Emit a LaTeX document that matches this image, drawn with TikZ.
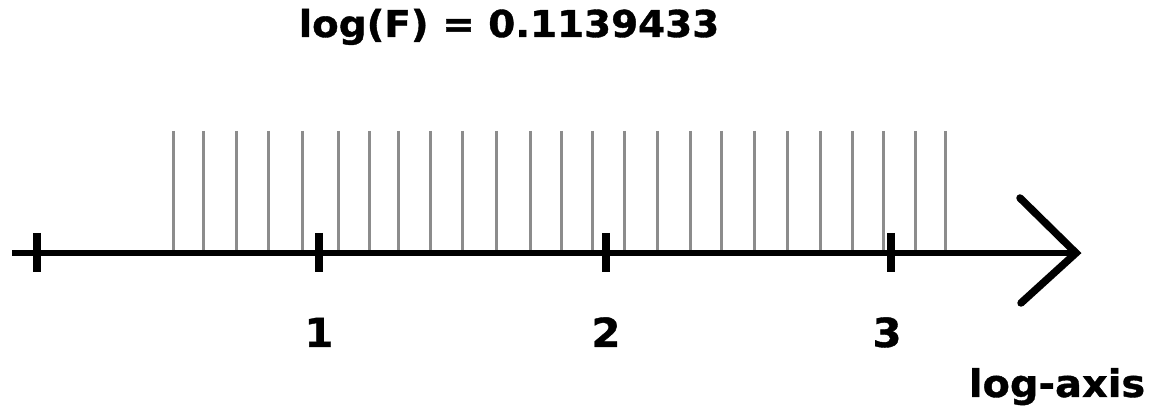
\documentclass[tikz,border=0pt]{standalone}
\usepackage{fontspec}
\setmainfont{DejaVu Sans}
\newfontfamily\heavy{DejaVu Sans Bold}[FakeBold=1, FakeStretch=1.05]
\begin{document}
\begin{tikzpicture}[x=1pt,y=-1pt,
  lbl/.style={font=\heavy\fontsize{38}{42}\selectfont, inner sep=0pt, anchor=base},
  ttl/.style={font=\heavy\fontsize{37}{42}\selectfont, inner sep=0pt, anchor=base},
  num/.style={font=\heavy\fontsize{40}{44}\selectfont, inner sep=0pt, anchor=base},
  hair/.style={draw=black!45, line width=3pt},
  tickmark/.style={draw=black, line width=8pt},
  axisline/.style={draw=black, line width=6.5pt},
  arrowarm/.style={draw=black, line width=7.5pt, line cap=round, line join=miter}]
\useasboundingbox (0,0) rectangle (1152,411);
\fill[white] (0,0) rectangle (1152,411);
% hairlines
\foreach \x [count=\k] in {173.3,203.3,236,268.3,302.3,338.3,369.3,398.3,430,462.3,496.7,530,561,592.3,624.7,657.7,690,721.3,754,787.7,820.7,852.3,883.3,915,945.7}{
  \coordinate (h\k t) at (\x,131);
  \coordinate (h\k b) at (\x,253);
  \draw[hair] (h\k t) -- (h\k b);
}
% axis
\coordinate (a0) at (12,253);
\coordinate (tip) at (1076,253);
\coordinate (armU) at (1020,198);
\coordinate (armL) at (1021,303);
\draw[axisline] (a0) -- (tip);
\draw[arrowarm] (armU) -- (tip) -- (armL);
% ticks
\foreach \n/\x in {0/37,1/319,2/606,3/891}{
  \coordinate (t\n u) at (\x,233);
  \coordinate (t\n d) at (\x,272);
  \draw[tickmark] (t\n u) -- (t\n d);
}
\node[num] (l1) at (319,347) {1};
\node[num] (l2) at (606,347) {2};
\node[num] (l3) at (887,347) {3};
\node[lbl] (axl) at (1057,397) {log-axis};
\node[ttl] (title) at (509,37) {log(F) = 0.1139433};
\end{tikzpicture}
\end{document}
